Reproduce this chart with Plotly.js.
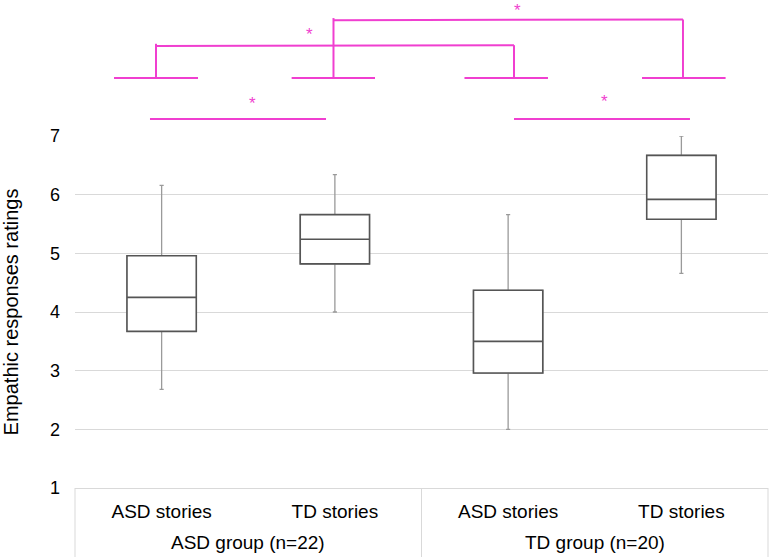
<!DOCTYPE html>
<html>
<head>
<meta charset="utf-8">
<script src="https://cdn.plot.ly/plotly-3.0.1.min.js"></script>
<style>html,body{margin:0;padding:0;background:#fff;}#chart{width:772px;height:557px;}</style>
</head>
<body>
<div id="chart"></div>
<script>
// Data
var groups = ["ASD group (n=22)", "ASD group (n=22)", "TD group (n=20)", "TD group (n=20)"];
var stories = ["ASD stories", "TD stories", "ASD stories", "TD stories"];
var lowerWhisker = [2.68, 4.00, 2.00, 4.66];
var q1 = [3.67, 4.82, 2.96, 5.58];
var median = [4.25, 5.24, 3.50, 5.92];
var q3 = [4.96, 5.66, 4.37, 6.67];
var upperWhisker = [6.16, 6.34, 5.66, 7.00];
var yTicks = [1, 2, 3, 4, 5, 6, 7];

var positions = stories.map(function (_, i) { return i; });

var pink = "#f03fd0";
var gridGrey = "#d9d9d9";
var font = "Liberation Sans, Arial, sans-serif";

var whiskers = {
  type: "box",
  x: positions,
  q1: q1, median: median, q3: q3,
  lowerfence: lowerWhisker, upperfence: upperWhisker,
  width: 0.4,
  whiskerwidth: 0.06,
  line: {color: "#9a9a9a", width: 1.3},
  fillcolor: "#ffffff",
  hoverinfo: "skip",
  showlegend: false
};
var boxes = {
  type: "box",
  x: positions,
  q1: q1, median: median, q3: q3,
  lowerfence: q1, upperfence: q3,
  width: 0.4,
  whiskerwidth: 0,
  line: {color: "#555555", width: 1.6},
  fillcolor: "#ffffff",
  hoverinfo: "skip",
  showlegend: false
};

function seg(x0, y0, x1, y1) {
  return {type: "line", xref: "paper", yref: "paper", x0: x0, y0: y0, x1: x1, y1: y1,
          line: {color: pink, width: 2}};
}
function star(x, y) {
  return {xref: "paper", yref: "paper", x: x, y: y, text: "*", showarrow: false,
          font: {family: font, size: 17, color: pink}};
}

var shapes = [
  seg(0.0563, 1.1648, 0.1775, 1.1648),
  seg(0.3126, 1.1648, 0.4329, 1.1648),
  seg(0.5620, 1.1648, 0.6825, 1.1648),
  seg(0.8182, 1.1648, 0.9388, 1.1648),
  seg(0.1169, 1.1648, 0.1169, 1.2620),
  seg(0.1169, 1.2560, 0.6335, 1.2580),
  seg(0.6335, 1.2580, 0.6335, 1.1648),
  seg(0.3730, 1.1648, 0.3730, 1.3350),
  seg(0.3730, 1.3290, 0.8773, 1.3310),
  seg(0.8773, 1.3310, 0.8773, 1.1648),
  seg(0.1082, 1.0483, 0.3622, 1.0483),
  seg(0.6335, 1.0483, 0.8874, 1.0483)
];
var annotations = [
  star(0.3304, 1.3200),
  star(0.6388, 1.3900),
  star(0.2482, 1.1260),
  star(0.7720, 1.1300)
];

// group labels and group dividers under the axis
var nCat = stories.length;
var uniqueGroups = groups.filter(function (g, i) { return groups.indexOf(g) === i; });
var boundaries = [0];
uniqueGroups.forEach(function (g) {
  var idx = positions.filter(function (p) { return groups[p] === g; });
  var mid = idx.reduce(function (a, b) { return a + b; }, 0) / idx.length;
  annotations.push({xref: "x", yref: "paper", x: mid, y: -0.156, yanchor: "middle",
    text: g, showarrow: false, font: {family: font, size: 19, color: "#000000"}});
  boundaries.push((idx[idx.length - 1] + 1) / nCat);
});
boundaries.forEach(function (b) {
  shapes.push({type: "line", xref: "paper", yref: "paper", x0: b, x1: b, y0: 0, y1: -0.2,
    line: {color: gridGrey, width: 1}});
});

var layout = {
  width: 772, height: 557,
  margin: {l: 75, r: 4, t: 136, b: 69},
  paper_bgcolor: "#ffffff", plot_bgcolor: "#ffffff",
  font: {family: font, size: 18, color: "#000000"},
  boxmode: "overlay",
  xaxis: {
    range: [-0.5, 3.5],
    tickvals: positions,
    ticktext: stories,
    showgrid: false, zeroline: false,
    showline: true, linecolor: gridGrey, linewidth: 1,
    ticks: "",
    ticklabelstandoff: 6,
    tickfont: {family: font, size: 19, color: "#000000"}
  },
  yaxis: {
    range: [1, 7],
    tickvals: yTicks,
    ticktext: yTicks.map(String),
    showgrid: true, gridcolor: gridGrey, gridwidth: 1,
    zeroline: false, showline: false,
    ticks: "",
    ticklabelstandoff: 14,
    tickfont: {family: font, size: 18, color: "#000000"},
    title: {text: "Empathic responses ratings", font: {family: font, size: 20, color: "#000000"}, standoff: 27}
  },
  shapes: shapes,
  annotations: annotations
};

Plotly.newPlot("chart", [whiskers, boxes], layout, {staticPlot: true, displayModeBar: false});
</script>
</body>
</html>
